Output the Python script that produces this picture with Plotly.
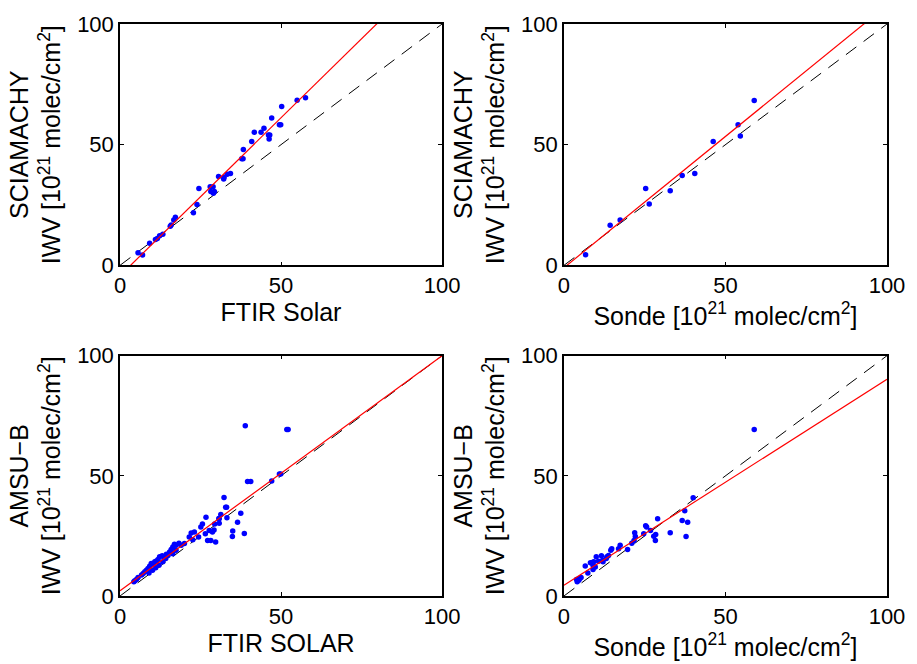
import plotly.graph_objects as go

# ---- Data ----
# Panel 1: FTIR Solar vs SCIAMACHY
p1_x = [5.6, 7.0, 9.2, 11.0, 11.6, 12.3, 13.3, 15.6, 15.9, 16.7, 17.2, 22.8, 23.9, 24.5,
        28.0, 28.9, 28.2, 29.3, 29.0, 30.6, 32.3, 32.2, 33.3, 34.3, 37.8, 38.2, 38.3,
        40.9, 41.7, 43.8, 44.7, 46.1, 46.5, 46.3, 47.1, 49.5, 49.9, 50.2, 55.0, 57.6]
p1_y = [5.2, 4.3, 9.1, 10.7, 11.1, 12.3, 12.9, 16.2, 16.7, 18.8, 19.9, 21.8, 25.2, 31.8,
        32.6, 32.6, 30.6, 30.6, 29.9, 36.8, 36.5, 35.8, 37.7, 38.0, 44.2, 44.2, 48.0,
        51.3, 55.1, 55.1, 56.8, 54.0, 54.0, 52.3, 61.0, 58.2, 58.2, 65.8, 68.4, 69.4]
p1_fit = (1.309, -4.3)   # slope, intercept

# Panel 2: Sonde vs SCIAMACHY
p2_x = [6.7, 14.3, 17.4, 25.3, 26.4, 32.9, 36.6, 40.5, 46.2, 53.9, 54.6, 58.9]
p2_y = [4.4, 16.6, 18.8, 31.8, 25.4, 30.9, 37.2, 38.0, 51.3, 58.3, 53.6, 68.3]
p2_fit = (1.088, -1.0)

# Panel 3: FTIR SOLAR vs AMSU-B
p3_x = [32.3, 32.8, 30.8, 31.3, 29.4, 29.7, 28.2, 27.2, 28.7, 29.2, 27.7, 26.7, 25.1,
        25.6, 26.5, 24.4, 23.1, 22.1, 22.6, 21.5, 18.3, 17.4, 16.9, 16.4, 15.9, 15.4,
        14.9, 14.4, 13.6, 13.1, 12.3, 11.8, 11.3, 10.8, 10.3, 9.7, 9.2, 8.7, 8.2, 7.7,
        7.2, 6.7, 5.6, 5.1, 4.6, 4.3, 13.3, 12.1, 11.1, 10.1, 9.0, 14.2, 16.4, 17.4,
        19.0, 20.0,
        38.9, 51.8, 52.2, 39.6, 40.6, 47.1, 49.5, 49.9, 33.1, 33.2, 37.5, 36.5, 35.0,
        34.9, 38.6, 30.7, 30.8]
p3_y = [41.0, 36.9, 32.1, 33.9, 30.0, 22.5, 23.1, 23.1, 26.6, 27.5, 27.3, 32.8, 28.7,
        30.0, 25.9, 24.5, 26.6, 26.2, 23.4, 24.5, 22.0, 21.1, 21.5, 20.4, 19.3, 18.3,
        16.9, 17.4, 16.3, 16.8, 16.3, 15.2, 14.6, 14.2, 13.2, 13.5, 12.4, 11.4, 10.7,
        10.1, 9.4, 8.7, 7.7, 6.9, 6.3, 5.9, 14.2, 12.8, 11.8, 10.7, 9.6, 15.6, 17.6,
        19.0, 21.1, 21.8,
        70.8, 69.3, 69.3, 47.7, 47.7, 47.9, 50.8, 50.8, 36.9, 32.6, 34.4, 30.7, 27.0,
        24.8, 26.0, 32.2, 30.3]
p3_fit = (0.978, 2.2)

# Panel 4: Sonde vs AMSU-B
p4_x = [29.0, 32.9, 25.3, 25.6, 24.7, 26.8, 28.4, 27.8, 28.3, 21.9, 22.1, 21.7, 21.0,
        19.7, 17.4, 16.9, 14.8, 14.5, 13.3, 13.1, 12.0, 11.6, 10.0, 9.2, 8.7, 8.2,
        9.0, 9.7, 9.0, 7.4, 6.6, 5.3, 4.9, 4.6, 4.1, 3.9, 10.7, 13.8, 12.1,
        58.9, 40.0, 37.4, 36.6, 38.3, 37.8]
p4_y = [32.1, 26.3, 29.2, 28.7, 25.9, 27.3, 25.6, 24.9, 23.1, 26.3, 24.8, 23.1, 22.0,
        19.3, 21.1, 19.7, 19.7, 19.0, 16.3, 15.6, 14.9, 16.7, 16.3, 14.2, 13.8, 13.8,
        12.8, 12.1, 11.0, 9.6, 12.5, 7.7, 7.3, 6.6, 5.9, 6.9, 14.5, 16.9, 14.2,
        69.3, 40.9, 35.5, 31.4, 30.7, 24.8]
p4_fit = (0.857, 4.5)

tick_vals = [0, 50, 100]
tick_text = ["0", "50", "100"]

unit = "[10<sup>21</sup> molec/cm<sup>2</sup>]"
x_titles = ["FTIR Solar", "Sonde " + unit, "FTIR SOLAR", "Sonde " + unit]
y_titles = ["SCIAMACHY<br>IWV " + unit, "SCIAMACHY<br>IWV " + unit,
            "AMSU\u2212B<br>IWV " + unit, "AMSU\u2212B<br>IWV " + unit]

panels = [(p1_x, p1_y, p1_fit), (p2_x, p2_y, p2_fit),
          (p3_x, p3_y, p3_fit), (p4_x, p4_y, p4_fit)]

fig = go.Figure()
line_x = [0, 100]
for i, (px, py, (a, b)) in enumerate(panels):
    xa = "x" if i == 0 else f"x{i+1}"
    ya = "y" if i == 0 else f"y{i+1}"
    fig.add_trace(go.Scatter(x=line_x, y=line_x, mode="lines", xaxis=xa, yaxis=ya,
                             line=dict(color="black", width=1, dash="13px,9px"),
                             showlegend=False, hoverinfo="skip"))
    fig.add_trace(go.Scatter(x=px, y=py, mode="markers", xaxis=xa, yaxis=ya,
                             marker=dict(color="#0000FF", size=5.5, line=dict(width=0)),
                             showlegend=False, cliponaxis=False))
    fig.add_trace(go.Scatter(x=line_x, y=[a * v + b for v in line_x], mode="lines",
                             xaxis=xa, yaxis=ya,
                             line=dict(color="#FF0000", width=1.2),
                             showlegend=False, hoverinfo="skip"))

tick_font = dict(family="Liberation Sans, Arial, sans-serif", size=22, color="black")
title_font = dict(family="Liberation Sans, Arial, sans-serif", size=25, color="black")
x_domains = [[0, 0.4199], [0.5788, 1.0], [0, 0.4199], [0.5788, 1.0]]
y_domains = [[0.5781, 1.0], [0.5781, 1.0], [0, 0.4201], [0, 0.4201]]

layout = dict(width=917, height=664, paper_bgcolor="white", plot_bgcolor="white",
              margin=dict(l=120, r=23, t=20, b=68), font=tick_font, showlegend=False)
for i in range(4):
    sx = "" if i == 0 else str(i + 1)
    common = dict(range=[0, 100], tickvals=tick_vals, ticktext=tick_text,
                  ticks="inside", ticklen=4, tickwidth=1, tickcolor="black",
                  showline=True, linecolor="black", linewidth=1.5, mirror="ticks",
                  showgrid=False, zeroline=False, tickfont=tick_font)
    layout["xaxis" + sx] = dict(common, domain=x_domains[i], anchor="y" + sx,
                                title=dict(text=x_titles[i], font=title_font, standoff=0))
    layout["yaxis" + sx] = dict(common, domain=y_domains[i], anchor="x" + sx,
                                title=dict(text=y_titles[i], font=title_font, standoff=9))
fig.update_layout(**layout)

fig.write_html("out.html")
